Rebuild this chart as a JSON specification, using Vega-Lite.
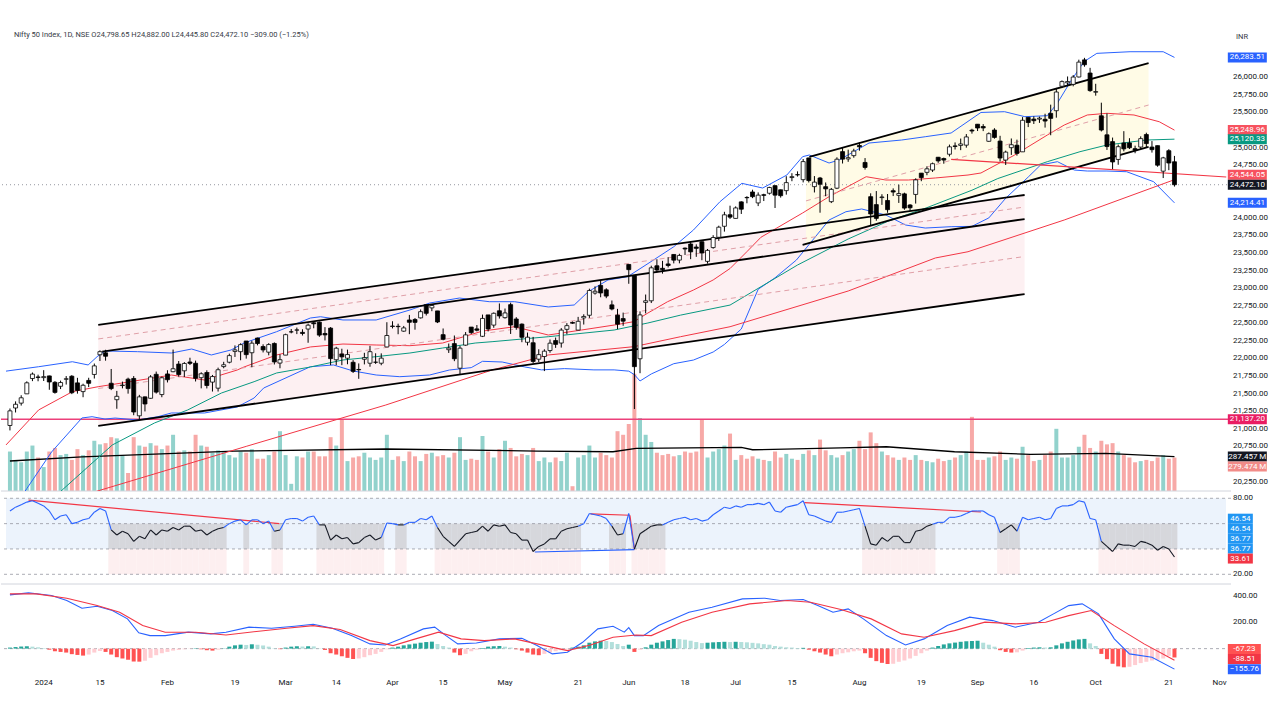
{
"$schema":"https://vega.github.io/schema/vega-lite/v6.json",
"padding":{"left":0,"top":22,"right":0,"bottom":0},
"background":"#ffffff",
"spacing":0,
"resolve":{"scale":{"color":"independent"}},
"config":{"view":{"stroke":null},"font":"Roboto","text":{"font":"Roboto"}},
"datasets":{
"d":[
{"n":1,"o":21047,"h":21289,"l":20977,"c":21255,"v":330,"r":70,"hi":8},
{"n":2,"o":21296,"h":21390,"l":21232,"c":21349,"v":260,"r":73,"hi":12},
{"n":3,"o":21365,"h":21477,"l":21330,"c":21441,"v":240,"r":75,"hi":16},
{"n":4,"o":21497,"h":21675,"l":21495,"c":21654,"v":330,"r":77,"hi":18},
{"n":5,"o":21715,"h":21801,"l":21678,"c":21778,"v":380,"r":78,"hi":15},
{"n":6,"o":21737,"h":21770,"l":21676,"c":21731,"v":280,"r":76,"hi":10},
{"n":7,"o":21728,"h":21834,"l":21680,"c":21742,"v":200,"r":74,"hi":4},
{"n":8,"o":21752,"h":21756,"l":21555,"c":21666,"v":330,"r":70,"hi":-8},
{"n":9,"o":21661,"h":21678,"l":21500,"c":21518,"v":360,"r":63,"hi":-20},
{"n":10,"o":21605,"h":21685,"l":21565,"c":21658,"v":300,"r":66,"hi":-25},
{"n":11,"o":21705,"h":21750,"l":21629,"c":21711,"v":310,"r":67,"hi":-30},
{"n":12,"o":21748,"h":21763,"l":21493,"c":21513,"v":260,"r":60,"hi":-42},
{"n":13,"o":21653,"h":21725,"l":21500,"c":21545,"v":350,"r":61,"hi":-48},
{"n":14,"o":21529,"h":21641,"l":21449,"c":21619,"v":300,"r":63,"hi":-53},
{"n":15,"o":21688,"h":21726,"l":21593,"c":21647,"v":340,"r":64,"hi":-45},
{"n":16,"o":21773,"h":21928,"l":21715,"c":21895,"v":420,"r":69,"hi":-30},
{"n":17,"o":22053,"h":22116,"l":21964,"c":22097,"v":390,"r":72,"hi":-18},
{"n":18,"o":22081,"h":22124,"l":21969,"c":22032,"v":400,"r":70,"hi":-25},
{"n":19,"o":21648,"h":21851,"l":21550,"c":21572,"v":450,"r":55,"hi":-45},
{"n":20,"o":21414,"h":21539,"l":21285,"c":21462,"v":440,"r":51,"hi":-65},
{"n":21,"o":21615,"h":21671,"l":21575,"c":21622,"v":300,"r":54,"hi":-75},
{"n":22,"o":21706,"h":21727,"l":21500,"c":21572,"v":150,"r":52,"hi":-85},
{"n":23,"o":21716,"h":21750,"l":21193,"c":21239,"v":450,"r":46,"hi":-98},
{"n":24,"o":21185,"h":21483,"l":21137,"c":21454,"v":380,"r":50,"hi":-99},
{"n":25,"o":21454,"h":21459,"l":21247,"c":21353,"v":370,"r":48,"hi":-92},
{"n":26,"o":21434,"h":21763,"l":21429,"c":21738,"v":400,"r":55,"hi":-70},
{"n":27,"o":21775,"h":21814,"l":21501,"c":21522,"v":380,"r":51,"hi":-50},
{"n":28,"o":21487,"h":21742,"l":21449,"c":21726,"v":350,"r":55,"hi":-35},
{"n":29,"o":21780,"h":21833,"l":21659,"c":21698,"v":380,"r":54,"hi":-25},
{"n":30,"o":21812,"h":22127,"l":21805,"c":21854,"v":470,"r":57,"hi":-15},
{"n":31,"o":21921,"h":21964,"l":21742,"c":21772,"v":330,"r":55,"hi":-10},
{"n":32,"o":21825,"h":21949,"l":21737,"c":21929,"v":340,"r":58,"hi":-5},
{"n":33,"o":21950,"h":22011,"l":21907,"c":21931,"v":330,"r":58,"hi":-2},
{"n":34,"o":21932,"h":21970,"l":21673,"c":21718,"v":470,"r":54,"hi":3},
{"n":35,"o":21727,"h":21804,"l":21575,"c":21783,"v":380,"r":55,"hi":-5},
{"n":36,"o":21800,"h":21832,"l":21574,"c":21616,"v":370,"r":51,"hi":-12},
{"n":37,"o":21664,"h":21766,"l":21530,"c":21743,"v":320,"r":54,"hi":-15},
{"n":38,"o":21578,"h":21870,"l":21530,"c":21840,"v":340,"r":56,"hi":-8},
{"n":39,"o":21885,"h":21953,"l":21861,"c":21911,"v":330,"r":57,"hi":2},
{"n":40,"o":21947,"h":22069,"l":21931,"c":22041,"v":300,"r":60,"hi":15},
{"n":41,"o":22101,"h":22186,"l":22022,"c":22122,"v":280,"r":62,"hi":25},
{"n":42,"o":22097,"h":22216,"l":21975,"c":22197,"v":330,"r":63,"hi":30},
{"n":43,"o":22249,"h":22249,"l":21998,"c":22055,"v":320,"r":59,"hi":28},
{"n":44,"o":22082,"h":22252,"l":21875,"c":22218,"v":350,"r":63,"hi":33},
{"n":45,"o":22291,"h":22297,"l":22187,"c":22213,"v":270,"r":63,"hi":30},
{"n":46,"o":22170,"h":22202,"l":22086,"c":22122,"v":270,"r":60,"hi":24},
{"n":47,"o":22090,"h":22218,"l":22045,"c":22198,"v":300,"r":62,"hi":15},
{"n":48,"o":22214,"h":22229,"l":21915,"c":21951,"v":330,"r":54,"hi":3},
{"n":49,"o":21935,"h":22060,"l":21861,"c":21983,"v":500,"r":55,"hi":-4},
{"n":50,"o":22048,"h":22353,"l":22048,"c":22339,"v":300,"r":63,"hi":8},
{"n":51,"o":22379,"h":22420,"l":22358,"c":22379,"v":60,"r":64,"hi":15},
{"n":52,"o":22404,"h":22440,"l":22347,"c":22406,"v":290,"r":64,"hi":18},
{"n":53,"o":22372,"h":22416,"l":22327,"c":22356,"v":280,"r":62,"hi":16},
{"n":54,"o":22419,"h":22497,"l":22224,"c":22474,"v":330,"r":65,"hi":18},
{"n":55,"o":22508,"h":22525,"l":22430,"c":22494,"v":330,"r":66,"hi":17},
{"n":56,"o":22517,"h":22527,"l":22308,"c":22333,"v":290,"r":59,"hi":2},
{"n":57,"o":22356,"h":22446,"l":22257,"c":22336,"v":290,"r":59,"hi":-10},
{"n":58,"o":22432,"h":22447,"l":21906,"c":21998,"v":450,"r":47,"hi":-35},
{"n":59,"o":21982,"h":22166,"l":21905,"c":22146,"v":380,"r":51,"hi":-45},
{"n":60,"o":22064,"h":22139,"l":21905,"c":22023,"v":600,"r":48,"hi":-58},
{"n":61,"o":22004,"h":22126,"l":21918,"c":22056,"v":250,"r":49,"hi":-70},
{"n":62,"o":21946,"h":21977,"l":21794,"c":21817,"v":280,"r":44,"hi":-79},
{"n":63,"o":21844,"h":21930,"l":21711,"c":21839,"v":290,"r":45,"hi":-75},
{"n":64,"o":21989,"h":22081,"l":21916,"c":22012,"v":320,"r":49,"hi":-65},
{"n":65,"o":21933,"h":22180,"l":21883,"c":22097,"v":280,"r":51,"hi":-50},
{"n":66,"o":21947,"h":22074,"l":21923,"c":21947,"v":260,"r":47,"hi":-40},
{"n":67,"o":21933,"h":22073,"l":21904,"c":22005,"v":280,"r":49,"hi":-25},
{"n":68,"o":22164,"h":22516,"l":22163,"c":22327,"v":470,"r":60.5,"hi":-5},
{"n":69,"o":22455,"h":22530,"l":22428,"c":22462,"v":260,"r":60,"hi":8},
{"n":70,"o":22458,"h":22495,"l":22345,"c":22453,"v":290,"r":59,"hi":15},
{"n":71,"o":22389,"h":22463,"l":22380,"c":22435,"v":250,"r":59,"hi":25},
{"n":72,"o":22548,"h":22620,"l":22346,"c":22515,"v":330,"r":61,"hi":32},
{"n":73,"o":22555,"h":22575,"l":22410,"c":22514,"v":290,"r":61,"hi":38},
{"n":74,"o":22578,"h":22698,"l":22569,"c":22666,"v":250,"r":64,"hi":45},
{"n":75,"o":22765,"h":22768,"l":22612,"c":22643,"v":310,"r":63,"hi":50},
{"n":76,"o":22720,"h":22775,"l":22673,"c":22754,"v":320,"r":66,"hi":53},
{"n":77,"o":22677,"h":22677,"l":22504,"c":22519,"v":290,"r":57,"hi":35},
{"n":78,"o":22339,"h":22427,"l":22259,"c":22273,"v":300,"r":50,"hi":20},
{"n":79,"o":22125,"h":22213,"l":22079,"c":22148,"v":280,"r":46,"hi":8},
{"n":80,"o":22212,"h":22327,"l":21962,"c":21996,"v":320,"r":42,"hi":-30},
{"n":81,"o":21862,"h":22180,"l":21778,"c":22147,"v":450,"r":47,"hi":-50},
{"n":82,"o":22190,"h":22376,"l":22181,"c":22336,"v":260,"r":52,"hi":-40},
{"n":83,"o":22447,"h":22447,"l":22349,"c":22368,"v":270,"r":53,"hi":-20},
{"n":84,"o":22421,"h":22476,"l":22386,"c":22402,"v":260,"r":54,"hi":-8},
{"n":85,"o":22316,"h":22625,"l":22305,"c":22570,"v":460,"r":58,"hi":5},
{"n":86,"o":22620,"h":22620,"l":22385,"c":22420,"v":330,"r":54,"hi":15},
{"n":87,"o":22475,"h":22655,"l":22437,"c":22643,"v":280,"r":59,"hi":18},
{"n":88,"o":22679,"h":22783,"l":22568,"c":22605,"v":350,"r":58,"hi":20},
{"n":89,"o":22581,"h":22711,"l":22567,"c":22648,"v":420,"r":59,"hi":15},
{"n":90,"o":22766,"h":22794,"l":22349,"c":22476,"v":360,"r":53,"hi":8},
{"n":91,"o":22562,"h":22588,"l":22409,"c":22443,"v":290,"r":52,"hi":-5},
{"n":92,"o":22489,"h":22499,"l":22232,"c":22302,"v":310,"r":47,"hi":-15},
{"n":93,"o":22231,"h":22369,"l":22186,"c":22303,"v":300,"r":47,"hi":-30},
{"n":94,"o":22224,"h":22307,"l":21932,"c":21958,"v":360,"r":38,"hi":-45},
{"n":95,"o":21990,"h":22131,"l":21950,"c":22055,"v":250,"r":42,"hi":-50},
{"n":96,"o":22028,"h":22131,"l":21821,"c":22104,"v":280,"r":44,"hi":-40},
{"n":97,"o":22113,"h":22270,"l":22082,"c":22218,"v":240,"r":48,"hi":-30},
{"n":98,"o":22255,"h":22298,"l":22151,"c":22201,"v":280,"r":48,"hi":-20},
{"n":99,"o":22220,"h":22432,"l":22155,"c":22404,"v":250,"r":54,"hi":-12},
{"n":100,"o":22415,"h":22503,"l":22345,"c":22467,"v":320,"r":56,"hi":-5},
{"n":101,"o":22512,"h":22526,"l":22494,"c":22502,"v":40,"r":57,"hi":8},
{"n":102,"o":22404,"h":22592,"l":22404,"c":22529,"v":280,"r":58,"hi":15},
{"n":103,"o":22577,"h":22629,"l":22483,"c":22598,"v":300,"r":60,"hi":25},
{"n":104,"o":22615,"h":22993,"l":22577,"c":22967,"v":380,"r":68,"hi":45},
{"n":105,"o":22931,"h":23026,"l":22909,"c":22957,"v":280,"r":67,"hi":55},
{"n":106,"o":23039,"h":23111,"l":22871,"c":22932,"v":320,"r":66,"hi":60},
{"n":107,"o":22977,"h":22999,"l":22858,"c":22888,"v":300,"r":64,"hi":58},
{"n":108,"o":22763,"h":22825,"l":22685,"c":22704,"v":280,"r":58,"hi":50},
{"n":109,"o":22617,"h":22706,"l":22417,"c":22488,"v":500,"r":51,"hi":35},
{"n":110,"o":22568,"h":22653,"l":22465,"c":22531,"v":470,"r":52,"hi":20},
{"n":111,"o":23338,"h":23339,"l":23063,"c":23264,"v":560,"r":68,"hi":30},
{"n":112,"o":23179,"h":23179,"l":21281,"c":21884,"v":980,"r":40,"hi":-25},
{"n":113,"o":21996,"h":22670,"l":21791,"c":22620,"v":610,"r":52,"hi":-8},
{"n":114,"o":22798,"h":22910,"l":22642,"c":22821,"v":470,"r":55,"hi":10},
{"n":115,"o":22821,"h":23320,"l":22789,"c":23290,"v":410,"r":58,"hi":30},
{"n":116,"o":23319,"h":23412,"l":23227,"c":23259,"v":320,"r":59,"hi":45},
{"n":117,"o":23283,"h":23389,"l":23207,"c":23265,"v":300,"r":59,"hi":55},
{"n":118,"o":23345,"h":23442,"l":23295,"c":23323,"v":310,"r":61,"hi":65},
{"n":119,"o":23480,"h":23481,"l":23353,"c":23399,"v":290,"r":63,"hi":74},
{"n":120,"o":23400,"h":23490,"l":23354,"c":23466,"v":300,"r":64,"hi":72},
{"n":121,"o":23570,"h":23579,"l":23473,"c":23558,"v":330,"r":65,"hi":68},
{"n":122,"o":23629,"h":23665,"l":23413,"c":23517,"v":320,"r":63,"hi":60},
{"n":123,"o":23586,"h":23624,"l":23446,"c":23567,"v":330,"r":64,"hi":50},
{"n":124,"o":23661,"h":23668,"l":23398,"c":23501,"v":600,"r":62,"hi":42},
{"n":125,"o":23382,"h":23558,"l":23350,"c":23538,"v":280,"r":63,"hi":45},
{"n":126,"o":23578,"h":23754,"l":23562,"c":23721,"v":330,"r":67,"hi":48},
{"n":127,"o":23724,"h":23889,"l":23673,"c":23868,"v":350,"r":70,"hi":50},
{"n":128,"o":23881,"h":24087,"l":23805,"c":24044,"v":380,"r":73,"hi":52},
{"n":129,"o":24045,"h":24174,"l":23986,"c":24011,"v":480,"r":72,"hi":50},
{"n":130,"o":23993,"h":24164,"l":23992,"c":24142,"v":260,"r":74,"hi":52},
{"n":131,"o":24228,"h":24236,"l":24056,"c":24124,"v":300,"r":73,"hi":50},
{"n":132,"o":24291,"h":24309,"l":24208,"c":24287,"v":270,"r":75,"hi":48},
{"n":133,"o":24369,"h":24401,"l":24281,"c":24302,"v":290,"r":75,"hi":44},
{"n":134,"o":24213,"h":24363,"l":24168,"c":24324,"v":270,"r":76,"hi":40},
{"n":135,"o":24330,"h":24344,"l":24240,"c":24321,"v":260,"r":75,"hi":34},
{"n":136,"o":24351,"h":24443,"l":24332,"c":24433,"v":250,"r":77,"hi":30},
{"n":137,"o":24459,"h":24461,"l":24141,"c":24324,"v":330,"r":70,"hi":20},
{"n":138,"o":24400,"h":24403,"l":24289,"c":24316,"v":280,"r":69,"hi":15},
{"n":139,"o":24388,"h":24593,"l":24331,"c":24502,"v":310,"r":73,"hi":10},
{"n":140,"o":24574,"h":24636,"l":24522,"c":24587,"v":270,"r":74,"hi":8},
{"n":141,"o":24615,"h":24662,"l":24588,"c":24613,"v":260,"r":75,"hi":5},
{"n":142,"o":24544,"h":24838,"l":24505,"c":24801,"v":310,"r":78,"hi":6},
{"n":143,"o":24853,"h":24855,"l":24504,"c":24531,"v":340,"r":67,"hi":-8},
{"n":144,"o":24445,"h":24595,"l":24362,"c":24509,"v":300,"r":66,"hi":-20},
{"n":145,"o":24568,"h":24583,"l":24074,"c":24479,"v":430,"r":64,"hi":-30},
{"n":146,"o":24444,"h":24504,"l":24308,"c":24413,"v":340,"r":62,"hi":-45},
{"n":147,"o":24231,"h":24426,"l":24211,"c":24406,"v":300,"r":61,"hi":-58},
{"n":148,"o":24423,"h":24862,"l":24410,"c":24835,"v":280,"r":69,"hi":-45},
{"n":149,"o":24943,"h":24999,"l":24774,"c":24836,"v":300,"r":69,"hi":-35},
{"n":150,"o":24839,"h":24971,"l":24798,"c":24857,"v":330,"r":70,"hi":-28},
{"n":151,"o":24886,"h":24984,"l":24856,"c":24951,"v":350,"r":71,"hi":-20},
{"n":152,"o":25030,"h":25078,"l":24956,"c":25011,"v":420,"r":72,"hi":-15},
{"n":153,"o":24789,"h":24851,"l":24687,"c":24718,"v":350,"r":58,"hi":-35},
{"n":154,"o":24302,"h":24350,"l":23894,"c":24056,"v":490,"r":44,"hi":-70},
{"n":155,"o":24189,"h":24382,"l":23960,"c":23993,"v":400,"r":43,"hi":-95},
{"n":156,"o":24289,"h":24337,"l":24185,"c":24298,"v":330,"r":49,"hi":-108},
{"n":157,"o":24248,"h":24340,"l":24073,"c":24117,"v":300,"r":46,"hi":-117},
{"n":158,"o":24387,"h":24420,"l":24311,"c":24368,"v":280,"r":50,"hi":-115},
{"n":159,"o":24321,"h":24473,"l":24213,"c":24347,"v":260,"r":50,"hi":-100},
{"n":160,"o":24342,"h":24359,"l":24116,"c":24140,"v":280,"r":45,"hi":-90},
{"n":161,"o":24184,"h":24196,"l":24100,"c":24144,"v":260,"r":45,"hi":-75},
{"n":162,"o":24334,"h":24563,"l":24204,"c":24541,"v":300,"r":54,"hi":-55},
{"n":163,"o":24637,"h":24638,"l":24522,"c":24573,"v":260,"r":55,"hi":-35},
{"n":164,"o":24648,"h":24734,"l":24607,"c":24698,"v":250,"r":58,"hi":-15},
{"n":165,"o":24681,"h":24787,"l":24654,"c":24771,"v":240,"r":59.5,"hi":8},
{"n":166,"o":24863,"h":24867,"l":24784,"c":24811,"v":270,"r":61,"hi":20},
{"n":167,"o":24845,"h":24858,"l":24771,"c":24823,"v":250,"r":61,"hi":32},
{"n":168,"o":24906,"h":25043,"l":24874,"c":25011,"v":260,"r":65,"hi":40},
{"n":169,"o":25024,"h":25074,"l":24973,"c":25017,"v":280,"r":65,"hi":46},
{"n":170,"o":25031,"h":25129,"l":24964,"c":25052,"v":300,"r":66,"hi":52},
{"n":171,"o":25035,"h":25193,"l":24999,"c":25152,"v":330,"r":68,"hi":56},
{"n":172,"o":25249,"h":25268,"l":25199,"c":25236,"v":620,"r":70,"hi":58},
{"n":173,"o":25333,"h":25334,"l":25236,"c":25279,"v":260,"r":70,"hi":60},
{"n":174,"o":25300,"h":25334,"l":25235,"c":25280,"v":260,"r":70,"hi":45},
{"n":175,"o":25090,"h":25216,"l":25083,"c":25198,"v":280,"r":67,"hi":30},
{"n":176,"o":25250,"h":25276,"l":25127,"c":25145,"v":290,"r":65,"hi":15},
{"n":177,"o":25093,"h":25168,"l":24801,"c":24852,"v":330,"r":53,"hi":-12},
{"n":178,"o":24823,"h":24957,"l":24753,"c":24936,"v":260,"r":56,"hi":-25},
{"n":179,"o":24999,"h":25130,"l":24896,"c":25041,"v":280,"r":59,"hi":-30},
{"n":180,"o":25034,"h":25113,"l":24886,"c":24918,"v":270,"r":54,"hi":-28},
{"n":181,"o":24940,"h":25434,"l":24940,"c":25389,"v":370,"r":65,"hi":-15},
{"n":182,"o":25430,"h":25430,"l":25292,"c":25357,"v":300,"r":63,"hi":5},
{"n":183,"o":25406,"h":25445,"l":25336,"c":25383,"v":250,"r":64,"hi":8},
{"n":184,"o":25405,"h":25441,"l":25352,"c":25419,"v":260,"r":65,"hi":10},
{"n":185,"o":25403,"h":25482,"l":25285,"c":25378,"v":300,"r":63,"hi":8},
{"n":186,"o":25487,"h":25611,"l":25176,"c":25416,"v":330,"r":64,"hi":10},
{"n":187,"o":25525,"h":25849,"l":25426,"c":25791,"v":520,"r":72,"hi":25},
{"n":188,"o":25873,"h":25956,"l":25847,"c":25939,"v":280,"r":74,"hi":40},
{"n":189,"o":25921,"h":26012,"l":25886,"c":25940,"v":280,"r":74,"hi":52},
{"n":190,"o":25900,"h":26032,"l":25872,"c":26004,"v":300,"r":75,"hi":62},
{"n":191,"o":26005,"h":26251,"l":25998,"c":26216,"v":370,"r":78,"hi":70},
{"n":192,"o":26248,"h":26277,"l":26151,"c":26179,"v":470,"r":77,"hi":74},
{"n":193,"o":26061,"h":26135,"l":25794,"c":25811,"v":360,"r":64,"hi":40},
{"n":194,"o":25788,"h":25908,"l":25739,"c":25797,"v":330,"r":63,"hi":20},
{"n":195,"o":25453,"h":25639,"l":25230,"c":25250,"v":420,"r":46,"hi":-40},
{"n":196,"o":25182,"h":25486,"l":24967,"c":25015,"v":390,"r":42,"hi":-80},
{"n":197,"o":25085,"h":25143,"l":24694,"c":24796,"v":400,"r":38,"hi":-115},
{"n":198,"o":24832,"h":25044,"l":24756,"c":25013,"v":330,"r":44,"hi":-135},
{"n":199,"o":25066,"h":25234,"l":24947,"c":24982,"v":300,"r":43,"hi":-142},
{"n":200,"o":25067,"h":25134,"l":24980,"c":24998,"v":280,"r":43,"hi":-138},
{"n":201,"o":24985,"h":25028,"l":24920,"c":24964,"v":240,"r":42,"hi":-125},
{"n":202,"o":25008,"h":25160,"l":24980,"c":25128,"v":250,"r":46,"hi":-110},
{"n":203,"o":25186,"h":25212,"l":25008,"c":25057,"v":260,"r":45,"hi":-100},
{"n":204,"o":25008,"h":25093,"l":24929,"c":24971,"v":250,"r":43,"hi":-90},
{"n":205,"o":25028,"h":25029,"l":24728,"c":24750,"v":280,"r":39,"hi":-85},
{"n":206,"o":24665,"h":24869,"l":24567,"c":24854,"v":300,"r":42,"hi":-75},
{"n":207,"o":24956,"h":24978,"l":24679,"c":24781,"v":270,"r":40,"hi":-55},
{"n":208,"o":24798.65,"h":24882,"l":24445.8,"c":24472.1,"v":279.474,"r":33.61,"hi":-67.23}
],
"ind":[
{"k":"u","n":0.3,"p":21820},{"k":"u","n":0.83,"p":21826},{"k":"u","n":6.1,"p":21883},{"k":"u","n":12.1,"p":21954},{"k":"u","n":14.9,"p":21908},{"k":"u","n":16.5,"p":22026},{"k":"u","n":17.9,"p":22107},{"k":"u","n":23.7,"p":22097},{"k":"u","n":29.7,"p":22078},{"k":"u","n":33.3,"p":22135},{"k":"u","n":36.8,"p":22050},{"k":"u","n":40.3,"p":22121},{"k":"u","n":42.6,"p":22220},{"k":"u","n":48.4,"p":22381},{"k":"u","n":54.4,"p":22576},{"k":"u","n":56.2,"p":22594},{"k":"u","n":60.2,"p":22548},{"k":"u","n":66.1,"p":22548},{"k":"u","n":72.1,"p":22690},{"k":"u","n":75.6,"p":22789},{"k":"u","n":80.9,"p":22860},{"k":"u","n":86.2,"p":22808},{"k":"u","n":90.7,"p":22808},{"k":"u","n":96.7,"p":22733},{"k":"u","n":101.3,"p":22761},{"k":"u","n":103.8,"p":22950},{"k":"u","n":107.3,"p":23117},{"k":"u","n":110.8,"p":23164},{"k":"u","n":115.4,"p":23401},{"k":"u","n":119,"p":23590},{"k":"u","n":122.5,"p":23828},{"k":"u","n":127.2,"p":24230},{"k":"u","n":131.1,"p":24492},{"k":"u","n":134.8,"p":24425},{"k":"u","n":139.1,"p":24610},{"k":"u","n":141.9,"p":24871},{"k":"u","n":143.1,"p":24895},{"k":"u","n":146.6,"p":24781},{"k":"u","n":148.4,"p":24824},{"k":"u","n":153.7,"p":25065},{"k":"u","n":159.5,"p":25108},{"k":"u","n":163.7,"p":25155},{"k":"u","n":168.3,"p":25208},{"k":"u","n":173.6,"p":25500},{"k":"u","n":177.8,"p":25511},{"k":"u","n":181.4,"p":25440},{"k":"u","n":185.4,"p":25454},{"k":"u","n":187.2,"p":25634},{"k":"u","n":189.5,"p":25937},{"k":"u","n":191.9,"p":26222},{"k":"u","n":194.2,"p":26341},{"k":"u","n":200.1,"p":26364},{"k":"u","n":206,"p":26364},{"k":"u","n":208,"p":26283.51},
{"k":"l","n":0.3,"p":19700},{"k":"l","n":4,"p":20150},{"k":"l","n":8.4,"p":20670},{"k":"l","n":13.8,"p":21154},{"k":"l","n":15.6,"p":21172},{"k":"l","n":17.9,"p":21139},{"k":"l","n":19.7,"p":21153},{"k":"l","n":23.7,"p":21125},{"k":"l","n":27.3,"p":21172},{"k":"l","n":29.7,"p":21225},{"k":"l","n":35.6,"p":21225},{"k":"l","n":41.4,"p":21310},{"k":"l","n":44.4,"p":21438},{"k":"l","n":46.1,"p":21580},{"k":"l","n":54.4,"p":21883},{"k":"l","n":58.5,"p":21908},{"k":"l","n":62,"p":21823},{"k":"l","n":66.1,"p":21765},{"k":"l","n":70.3,"p":21741},{"k":"l","n":75.6,"p":21765},{"k":"l","n":79.1,"p":21836},{"k":"l","n":83,"p":21870},{"k":"l","n":85,"p":21960},{"k":"l","n":88.5,"p":21950},{"k":"l","n":92.5,"p":21880},{"k":"l","n":95.5,"p":21838},{"k":"l","n":99.6,"p":21856},{"k":"l","n":104.8,"p":21838},{"k":"l","n":108.4,"p":21838},{"k":"l","n":111,"p":21820},{"k":"l","n":112,"p":21770},{"k":"l","n":113,"p":21680},{"k":"l","n":115,"p":21780},{"k":"l","n":119,"p":21926},{"k":"l","n":122.5,"p":21978},{"k":"l","n":126,"p":22092},{"k":"l","n":128,"p":22200},{"k":"l","n":131,"p":22420},{"k":"l","n":134,"p":22985},{"k":"l","n":137,"p":23148},{"k":"l","n":140.8,"p":23401},{"k":"l","n":146.6,"p":23970},{"k":"l","n":149.6,"p":24088},{"k":"l","n":152.4,"p":24127},{"k":"l","n":156.7,"p":24041},{"k":"l","n":160.2,"p":23899},{"k":"l","n":163.7,"p":23856},{"k":"l","n":168.3,"p":23875},{"k":"l","n":172,"p":23880},{"k":"l","n":175,"p":24000},{"k":"l","n":178,"p":24280},{"k":"l","n":182,"p":24581},{"k":"l","n":184.2,"p":24753},{"k":"l","n":187.2,"p":24800},{"k":"l","n":190.2,"p":24681},{"k":"l","n":192.5,"p":24667},{"k":"l","n":196,"p":24667},{"k":"l","n":199.5,"p":24657},{"k":"l","n":204.3,"p":24515},{"k":"l","n":208,"p":24214.41},
{"k":"m","n":0.3,"p":20770},{"k":"m","n":6.1,"p":21268},{"k":"m","n":12.1,"p":21528},{"k":"m","n":16.7,"p":21599},{"k":"m","n":20.9,"p":21651},{"k":"m","n":29.7,"p":21765},{"k":"m","n":35.6,"p":21694},{"k":"m","n":41.4,"p":21836},{"k":"m","n":42.6,"p":21879},{"k":"m","n":48.4,"p":22050},{"k":"m","n":54.4,"p":22164},{"k":"m","n":60.2,"p":22206},{"k":"m","n":66.1,"p":22192},{"k":"m","n":72.1,"p":22182},{"k":"m","n":77.9,"p":22220},{"k":"m","n":85,"p":22390},{"k":"m","n":90.7,"p":22452},{"k":"m","n":96.7,"p":22334},{"k":"m","n":102.6,"p":22405},{"k":"m","n":108.4,"p":22476},{"k":"m","n":111.9,"p":22524},{"k":"m","n":114.4,"p":22647},{"k":"m","n":117.9,"p":22808},{"k":"m","n":122.5,"p":22974},{"k":"m","n":126,"p":23117},{"k":"m","n":129,"p":23280},{"k":"m","n":132,"p":23520},{"k":"m","n":134.5,"p":23725},{"k":"m","n":141.9,"p":24070},{"k":"m","n":146.6,"p":24302},{"k":"m","n":153.2,"p":24586},{"k":"m","n":156.7,"p":24539},{"k":"m","n":160.7,"p":24539},{"k":"m","n":165.5,"p":24568},{"k":"m","n":171.3,"p":24610},{"k":"m","n":173.6,"p":24639},{"k":"m","n":179.6,"p":24895},{"k":"m","n":185.4,"p":25179},{"k":"m","n":188.4,"p":25321},{"k":"m","n":192.5,"p":25464},{"k":"m","n":196,"p":25488},{"k":"m","n":200.8,"p":25464},{"k":"m","n":205.3,"p":25368},{"k":"m","n":208,"p":25248.96},
{"k":"g","n":0.3,"p":19410},{"k":"g","n":10.3,"p":20130},{"k":"g","n":19.2,"p":20770},{"k":"g","n":26.7,"p":21083},{"k":"g","n":32.6,"p":21268},{"k":"g","n":38.6,"p":21509},{"k":"g","n":44.4,"p":21670},{"k":"g","n":48.4,"p":21794},{"k":"g","n":54.4,"p":21879},{"k":"g","n":60.2,"p":21979},{"k":"g","n":66.1,"p":22026},{"k":"g","n":72.1,"p":22078},{"k":"g","n":77.9,"p":22149},{"k":"g","n":83.7,"p":22220},{"k":"g","n":86.7,"p":22239},{"k":"g","n":96.7,"p":22310},{"k":"g","n":108.4,"p":22405},{"k":"g","n":114.4,"p":22505},{"k":"g","n":120.2,"p":22617},{"k":"g","n":129,"p":22760},{"k":"g","n":141,"p":23330},{"k":"g","n":150,"p":23700},{"k":"g","n":157,"p":23950},{"k":"g","n":164,"p":24146},{"k":"g","n":172,"p":24394},{"k":"g","n":176.6,"p":24560},{"k":"g","n":185.4,"p":24800},{"k":"g","n":191.2,"p":24942},{"k":"g","n":196,"p":25037},{"k":"g","n":203,"p":25108},{"k":"g","n":208,"p":25120.33},
{"k":"r","n":10,"p":19950},{"k":"r","n":17.2,"p":20130},{"k":"r","n":43,"p":20750},{"k":"r","n":67.8,"p":21338},{"k":"r","n":86.7,"p":21836},{"k":"r","n":96.7,"p":22050},{"k":"r","n":111.9,"p":22168},{"k":"r","n":120.2,"p":22310},{"k":"r","n":129,"p":22452},{"k":"r","n":150,"p":22960},{"k":"r","n":165.5,"p":23430},{"k":"r","n":171.3,"p":23519},{"k":"r","n":188.4,"p":23970},{"k":"r","n":208,"p":24544.05}
],
"vm":[{"n":1,"v":251},{"n":13.8,"v":286},{"n":40.8,"v":334},{"n":67.8,"v":351},{"n":94.7,"v":334},{"n":108.2,"v":328},{"n":112.3,"v":356},{"n":131,"v":365},{"n":133,"v":345},{"n":148.7,"v":361},{"n":156.8,"v":370},{"n":168.9,"v":328},{"n":182.4,"v":306},{"n":195.8,"v":314},{"n":208,"v":287.457}],
"mc":[
{"k":"mac","n":1,"v":408.7},{"k":"mac","n":4.3,"v":424},{"k":"mac","n":8.4,"v":404},{"k":"mac","n":11.1,"v":366},{"k":"mac","n":13.8,"v":307},{"k":"mac","n":16.5,"v":322},{"k":"mac","n":19.2,"v":290},{"k":"mac","n":21.9,"v":226},{"k":"mac","n":23.9,"v":120},{"k":"mac","n":25.9,"v":99},{"k":"mac","n":28.6,"v":99},{"k":"mac","n":32.7,"v":125},{"k":"mac","n":36.7,"v":112},{"k":"mac","n":39.4,"v":125},{"k":"mac","n":43.5,"v":163},{"k":"mac","n":47.5,"v":155},{"k":"mac","n":51.6,"v":170},{"k":"mac","n":54.9,"v":185},{"k":"mac","n":58.3,"v":155},{"k":"mac","n":61.7,"v":99},{"k":"mac","n":65,"v":36},{"k":"mac","n":67.7,"v":28},{"k":"mac","n":70.4,"v":74},{"k":"mac","n":74.5,"v":150},{"k":"mac","n":76.5,"v":163},{"k":"mac","n":78.5,"v":99},{"k":"mac","n":80.6,"v":36},{"k":"mac","n":83.9,"v":43},{"k":"mac","n":88,"v":74},{"k":"mac","n":92,"v":79},{"k":"mac","n":94.7,"v":23},{"k":"mac","n":97.4,"v":-40},{"k":"mac","n":100.1,"v":-28},{"k":"mac","n":102.8,"v":48},{"k":"mac","n":105.5,"v":150},{"k":"mac","n":108.2,"v":170},{"k":"mac","n":110.2,"v":125},{"k":"mac","n":111,"v":160},{"k":"mac","n":112,"v":99},{"k":"mac","n":113.6,"v":99},{"k":"mac","n":116.3,"v":175},{"k":"mac","n":121.7,"v":277},{"k":"mac","n":125.8,"v":315},{"k":"mac","n":131.2,"v":378},{"k":"mac","n":135.2,"v":383},{"k":"mac","n":137.9,"v":366},{"k":"mac","n":142,"v":373},{"k":"mac","n":144.6,"v":327},{"k":"mac","n":147.3,"v":277},{"k":"mac","n":150,"v":302},{"k":"mac","n":152.7,"v":226},{"k":"mac","n":156.8,"v":99},{"k":"mac","n":160.2,"v":28},{"k":"mac","n":163.5,"v":74},{"k":"mac","n":167.6,"v":175},{"k":"mac","n":171.6,"v":239},{"k":"mac","n":175.7,"v":213},{"k":"mac","n":179.7,"v":163},{"k":"mac","n":183.8,"v":201},{"k":"mac","n":186.5,"v":264},{"k":"mac","n":189.2,"v":327},{"k":"mac","n":191.6,"v":340},{"k":"mac","n":194.5,"v":264},{"k":"mac","n":197.3,"v":74},{"k":"mac","n":200,"v":-40},{"k":"mac","n":204,"v":-66},{"k":"mac","n":208,"v":-155.76},
{"k":"sig","n":1,"v":416},{"k":"sig","n":5.7,"v":416},{"k":"sig","n":11.1,"v":383},{"k":"sig","n":16.5,"v":328},{"k":"sig","n":20.5,"v":277},{"k":"sig","n":24.6,"v":175},{"k":"sig","n":28.6,"v":125},{"k":"sig","n":34,"v":125},{"k":"sig","n":39.4,"v":104},{"k":"sig","n":44.8,"v":130},{"k":"sig","n":50.2,"v":155},{"k":"sig","n":54.9,"v":175},{"k":"sig","n":59.7,"v":145},{"k":"sig","n":65,"v":61},{"k":"sig","n":69.1,"v":23},{"k":"sig","n":73.1,"v":74},{"k":"sig","n":77.2,"v":125},{"k":"sig","n":81.2,"v":74},{"k":"sig","n":85.3,"v":61},{"k":"sig","n":90.7,"v":74},{"k":"sig","n":96.1,"v":23},{"k":"sig","n":100.1,"v":-15},{"k":"sig","n":104.2,"v":28},{"k":"sig","n":108.2,"v":87},{"k":"sig","n":112.3,"v":104},{"k":"sig","n":115,"v":99},{"k":"sig","n":120.4,"v":201},{"k":"sig","n":125.8,"v":277},{"k":"sig","n":132.5,"v":340},{"k":"sig","n":139.2,"v":366},{"k":"sig","n":143.3,"v":353},{"k":"sig","n":148.7,"v":297},{"k":"sig","n":154.1,"v":226},{"k":"sig","n":159.5,"v":112},{"k":"sig","n":163.5,"v":87},{"k":"sig","n":168.9,"v":137},{"k":"sig","n":174.3,"v":201},{"k":"sig","n":179.7,"v":188},{"k":"sig","n":185.1,"v":201},{"k":"sig","n":189.2,"v":251},{"k":"sig","n":193.2,"v":290},{"k":"sig","n":197.3,"v":175},{"k":"sig","n":202.6,"v":36},{"k":"sig","n":208,"v":-88.51}
],
"ln":[
{"k":"s","a":16.7,"b":181.36,"pa":22477,"pb":24326},
{"k":"s","a":17.4,"b":181.36,"pa":22097,"pb":23984},
{"k":"s","a":16.7,"b":181.36,"pa":21040,"pb":22917},
{"k":"s","a":143.1,"b":203.4,"pa":24868,"pb":26203},
{"k":"s","a":141.9,"b":203.4,"pa":23616,"pb":25009},
{"k":"d","a":16.7,"b":181.36,"pa":22278,"pb":24155},
{"k":"d","a":16.7,"b":181.36,"pa":21573,"pb":23451},
{"k":"d","a":142.5,"b":203.4,"pa":24242,"pb":25606},
{"k":"t","a":168.3,"b":217.2,"pa":24834,"pb":24582}
],
"fl":[
{"g":"a","n":16.7,"t":22477,"b":21040},{"g":"a","n":181.36,"t":24326,"b":22917},
{"g":"b","n":142.5,"t":24855,"b":23630},{"g":"b","n":203.4,"t":26203,"b":25009}
],
"rt":[
{"k":"r","a":4.3,"b":48.9,"ra":78.5,"rb":60},
{"k":"r","a":104.2,"b":111.2,"ra":67.7,"rb":66.6},
{"k":"r","a":111.2,"b":112,"ra":66.6,"rb":39.7},
{"k":"r","a":142.2,"b":173.6,"ra":76.6,"rb":69.2},
{"k":"b","a":94.3,"b":112,"ra":37.6,"rb":39.4}
],
"pl":[{"t":"26,283.51","v":26283.51,"k":"b"},{"t":"25,248.96","v":25248.96,"k":"r"},{"t":"25,120.33","v":25120.33,"k":"g"},{"t":"24,472.10","v":24472.1,"k":"k"},{"t":"24,214.41","v":24214.41,"k":"b"},{"t":"21,137.20","v":21137.2,"k":"p"}],
"pticks":[{"v":20250},{"v":20750},{"v":21000},{"v":21250},{"v":21500},{"v":21750},{"v":22000},{"v":22250},{"v":22500},{"v":22750},{"v":23000},{"v":23250},{"v":23500},{"v":23750},{"v":24000},{"v":24750},{"v":25000},{"v":25500},{"v":25750},{"v":26000}],
"dates":[{"n":7,"t":"2024"},{"n":17,"t":"15"},{"n":29,"t":"Feb"},{"n":41,"t":"19"},{"n":50,"t":"Mar"},{"n":59,"t":"14"},{"n":69,"t":"Apr"},{"n":78,"t":"15"},{"n":89,"t":"May"},{"n":102,"t":"21"},{"n":111,"t":"Jun"},{"n":121,"t":"18"},{"n":130,"t":"Jul"},{"n":140,"t":"15"},{"n":152,"t":"Aug"},{"n":163,"t":"19"},{"n":173,"t":"Sep"},{"n":183,"t":"16"},{"n":194,"t":"Oct"},{"n":207,"t":"21"},{"n":216,"t":"Nov"}]
},
"vconcat":[
{
"width":1230,"height":469,
"resolve":{"scale":{"y":"independent"}},
"layer":[
{"data":{"name":"d"},"mark":{"type":"bar","width":4,"opacity":1,"clip":true},
 "encoding":{
  "x":{"field":"n","type":"quantitative","scale":{"domain":[0.3,217.16],"nice":false,"zero":false},"axis":null},
  "y":{"field":"v","type":"quantitative","scale":{"domain":[0,3921],"nice":false},"axis":null},
  "y2":{"datum":0},
  "color":{"condition":{"test":"datum.c >= datum.o","value":"#92d2cc"},"value":"#f7a9a7"}}},
{"data":{"name":"vm"},"mark":{"type":"line","color":"#000000","strokeWidth":1.3,"clip":true},
 "encoding":{
  "x":{"field":"n","type":"quantitative","axis":null},
  "y":{"field":"v","type":"quantitative","scale":{"domain":[0,3921],"nice":false},"axis":null}}},
{"data":{"values":[{}]},"mark":{"type":"rule","color":"#d1d4dc","strokeWidth":1},
 "encoding":{"y":{"datum":0,"type":"quantitative","scale":{"domain":[0,3921],"nice":false},"axis":null}}},
{"data":{"values":[{"t":"287.457 M","v":287.457}]},
 "encoding":{"x":{"datum":220.95,"type":"quantitative","axis":null},"y":{"field":"v","type":"quantitative","scale":{"domain":[0,3921],"nice":false},"axis":null}},
 "layer":[
  {"mark":{"type":"tick","orient":"horizontal","size":39,"thickness":10,"opacity":1,"color":"#131722"}},
  {"mark":{"type":"text","color":"#ffffff","fontSize":8,"align":"center","baseline":"middle"},"encoding":{"text":{"field":"t"}}}]},
{"data":{"values":[{"t":"279.474 M","v":279.474}]},
 "encoding":{"x":{"datum":220.95,"type":"quantitative","axis":null},"y":{"field":"v","type":"quantitative","scale":{"domain":[0,3921],"nice":false},"axis":null}},
 "layer":[
  {"mark":{"type":"tick","orient":"horizontal","size":39,"thickness":10,"opacity":1,"color":"#f28b88","yOffset":9}},
  {"mark":{"type":"text","color":"#ffffff","fontSize":8,"align":"center","baseline":"middle","yOffset":9},"encoding":{"text":{"field":"t"}}}]},
{"layer":[
 {"data":{"name":"fl"},"mark":{"type":"area","opacity":1,"clip":true},
  "encoding":{
   "x":{"field":"n","type":"quantitative","axis":null},
   "y":{"field":"t","type":"quantitative","scale":{"domain":[20115,26787],"nice":false,"zero":false},"axis":null},
   "y2":{"field":"b"},
   "detail":{"field":"g"},
   "color":{"condition":{"test":"datum.g == 'a'","value":"#fdf0f2"},"value":"#fffbe6"}}},
 {"data":{"values":[{}]},"mark":{"type":"rule","color":"#9598a1","strokeDash":[1,3],"strokeWidth":1},
  "encoding":{"y":{"datum":24472.1,"type":"quantitative","axis":null}}},
 {"data":{"values":[{}]},"mark":{"type":"rule","color":"#ec407a","strokeWidth":1.5},
  "encoding":{"y":{"datum":21137.2,"type":"quantitative","axis":null}}},
 {"data":{"name":"ind"},"mark":{"type":"line","strokeWidth":1,"clip":true},
  "encoding":{
   "x":{"field":"n","type":"quantitative","axis":null},
   "y":{"field":"p","type":"quantitative","axis":null},
   "color":{"field":"k","type":"nominal","scale":{"domain":["u","l","m","g","r"],"range":["#2962FF","#2962FF","#F23645","#089981","#F23645"]},"legend":null}}},
 {"data":{"name":"ln"},"transform":[{"filter":"datum.k == 'd'"}],"mark":{"type":"rule","color":"#e0a0a8","strokeDash":[5,4],"strokeWidth":1,"clip":true},
  "encoding":{"x":{"field":"a","type":"quantitative","axis":null},"x2":{"field":"b"},"y":{"field":"pa","type":"quantitative","axis":null},"y2":{"field":"pb"}}},
 {"data":{"name":"ln"},"transform":[{"filter":"datum.k == 's'"}],"mark":{"type":"rule","color":"#000000","strokeWidth":1.8,"clip":true},
  "encoding":{"x":{"field":"a","type":"quantitative","axis":null},"x2":{"field":"b"},"y":{"field":"pa","type":"quantitative","axis":null},"y2":{"field":"pb"}}},
 {"data":{"name":"ln"},"transform":[{"filter":"datum.k == 't'"}],"mark":{"type":"rule","color":"#F23645","strokeWidth":1.2,"clip":true},
  "encoding":{"x":{"field":"a","type":"quantitative","axis":null},"x2":{"field":"b"},"y":{"field":"pa","type":"quantitative","axis":null},"y2":{"field":"pb"}}},
 {"data":{"name":"d"},"mark":{"type":"rule","color":"#000000","strokeWidth":1,"clip":true},
  "encoding":{"x":{"field":"n","type":"quantitative","axis":null},"y":{"field":"l","type":"quantitative","axis":null},"y2":{"field":"h"}}},
 {"data":{"name":"d"},"mark":{"type":"bar","width":4,"opacity":1,"stroke":"#000000","strokeWidth":0.8,"clip":true},
  "encoding":{"x":{"field":"n","type":"quantitative","axis":null},"y":{"field":"o","type":"quantitative","axis":null},"y2":{"field":"c"},
   "fill":{"condition":{"test":"datum.c >= datum.o","value":"#ffffff"},"value":"#000000"}}},
 {"data":{"values":[{"t":"Nifty 50 Index, 1D, NSE  O24,798.65  H24,882.00  L24,445.80  C24,472.10  −309.00 (−1.25%)"}]},
  "mark":{"type":"text","align":"left","baseline":"middle","fontSize":7.5,"color":"#363a45"},
  "encoding":{"x":{"datum":1.71,"type":"quantitative","axis":null},"y":{"datum":26602,"type":"quantitative","axis":null},"text":{"field":"t"}}},
 {"data":{"values":[{"t":"INR"}]},
  "mark":{"type":"text","align":"left","baseline":"middle","fontSize":7.5,"color":"#363a45"},
  "encoding":{"x":{"datum":218.95,"type":"quantitative","axis":null},"y":{"datum":26573,"type":"quantitative","axis":null},"text":{"field":"t"}}},
 {"data":{"name":"pticks"},
  "mark":{"type":"text","align":"left","baseline":"middle","fontSize":8,"color":"#131722"},
  "encoding":{"x":{"datum":218.39,"type":"quantitative","axis":null},"y":{"field":"v","type":"quantitative","axis":null},"text":{"field":"v","type":"quantitative","format":",.2f"}}},
 {"data":{"values":[{"t":"24,544.05","v":24544.05}]},
  "encoding":{"x":{"datum":220.95,"type":"quantitative","axis":null},"y":{"field":"v","type":"quantitative","axis":null}},
  "layer":[
   {"mark":{"type":"tick","orient":"horizontal","size":39,"thickness":10,"opacity":1,"color":"#F7525F","yOffset":-5}},
   {"mark":{"type":"text","color":"#ffffff","fontSize":8,"align":"center","baseline":"middle","yOffset":-5},"encoding":{"text":{"field":"t"}}}]},
 {"data":{"name":"pl"},
  "encoding":{"x":{"datum":220.95,"type":"quantitative","axis":null},"y":{"field":"v","type":"quantitative","axis":null}},
  "layer":[
   {"mark":{"type":"tick","orient":"horizontal","size":39,"thickness":10,"opacity":1},
    "encoding":{"color":{"condition":[{"test":"datum.k == 'b'","value":"#2962FF"},{"test":"datum.k == 'r'","value":"#F7525F"},{"test":"datum.k == 'g'","value":"#089981"},{"test":"datum.k == 'p'","value":"#E91E63"}],"value":"#131722"}}},
   {"mark":{"type":"text","color":"#ffffff","fontSize":8,"align":"center","baseline":"middle"},"encoding":{"text":{"field":"t"}}}]}
]}
]
},
{
"width":1230,"height":92,
"layer":[
 {"data":{"values":[{}]},"mark":{"type":"rect","color":"#ecf3fc"},
  "encoding":{
   "x":{"datum":0.3,"type":"quantitative","scale":{"domain":[0.3,217.16],"nice":false,"zero":false},"axis":null},
   "x2":{"datum":217.16},
   "y":{"datum":80,"type":"quantitative","scale":{"domain":[12.34,84.97],"nice":false,"zero":false},"axis":null},
   "y2":{"datum":40}}},
 {"data":{"name":"d"},"transform":[{"filter":"datum.r < 60"}],"mark":{"type":"bar","width":5.8,"opacity":1,"color":"#d6d7dc"},
  "encoding":{"x":{"field":"n","type":"quantitative","axis":null},"y":{"datum":60,"type":"quantitative","axis":null},"y2":{"datum":40}}},
 {"data":{"name":"d"},"transform":[{"filter":"datum.r < 60"}],"mark":{"type":"bar","width":5.8,"opacity":1,"color":"#fdeff0"},
  "encoding":{"x":{"field":"n","type":"quantitative","axis":null},"y":{"datum":40,"type":"quantitative","axis":null},"y2":{"datum":20}}},
 {"data":{"values":[{"v":80},{"v":60},{"v":40},{"v":20}]},"mark":{"type":"rule","color":"#9598a1","strokeDash":[3,3],"strokeWidth":0.8},
  "encoding":{"y":{"field":"v","type":"quantitative","axis":null}}},
 {"data":{"values":[{}]},"mark":{"type":"rule","color":"#d1d4dc","strokeWidth":1},
  "encoding":{"y":{"datum":12.34,"type":"quantitative","axis":null}}},
 {"data":{"name":"rt"},"mark":{"type":"rule","strokeWidth":1.2},
  "encoding":{"x":{"field":"a","type":"quantitative","axis":null},"x2":{"field":"b"},"y":{"field":"ra","type":"quantitative","axis":null},"y2":{"field":"rb"},
   "color":{"condition":{"test":"datum.k == 'b'","value":"#2962FF"},"value":"#F23645"}}},
 {"data":{"name":"d"},"transform":[{"window":[{"op":"lead","field":"r","as":"r2"},{"op":"lead","field":"n","as":"n2"}],"sort":[{"field":"n","order":"ascending"}]},{"filter":"isValid(datum.n2)"}],
  "mark":{"type":"rule","strokeWidth":1.1},
  "encoding":{"x":{"field":"n","type":"quantitative","axis":null},"x2":{"field":"n2"},"y":{"field":"r","type":"quantitative","axis":null},"y2":{"field":"r2"},
   "color":{"condition":{"test":"datum.r < 60 && datum.r2 < 60","value":"#131722"},"value":"#2962FF"}}},
 {"data":{"values":[{"v":80},{"v":20}]},
  "mark":{"type":"text","align":"left","baseline":"middle","fontSize":8,"color":"#131722"},
  "encoding":{"x":{"datum":218.39,"type":"quantitative","axis":null},"y":{"field":"v","type":"quantitative","axis":null},"text":{"field":"v","type":"quantitative","format":".2f"}}},
 {"data":{"values":[{"t":"46.54","v":46.54}]},"encoding":{"x":{"datum":219.71,"type":"quantitative","axis":null},"y":{"field":"v","type":"quantitative","axis":null}},
  "layer":[{"mark":{"type":"tick","orient":"horizontal","size":25,"thickness":10,"opacity":1,"color":"#2196F3","yOffset":-22}},{"mark":{"type":"text","color":"#ffffff","fontSize":8,"align":"center","baseline":"middle","yOffset":-22},"encoding":{"text":{"field":"t"}}}]},
 {"data":{"values":[{"t":"46.54","v":46.54}]},"encoding":{"x":{"datum":219.71,"type":"quantitative","axis":null},"y":{"field":"v","type":"quantitative","axis":null}},
  "layer":[{"mark":{"type":"tick","orient":"horizontal","size":25,"thickness":10,"opacity":1,"color":"#2196F3","yOffset":-12}},{"mark":{"type":"text","color":"#ffffff","fontSize":8,"align":"center","baseline":"middle","yOffset":-12},"encoding":{"text":{"field":"t"}}}]},
 {"data":{"values":[{"t":"36.77","v":36.77}]},"encoding":{"x":{"datum":219.71,"type":"quantitative","axis":null},"y":{"field":"v","type":"quantitative","axis":null}},
  "layer":[{"mark":{"type":"tick","orient":"horizontal","size":25,"thickness":10,"opacity":1,"color":"#2196F3","yOffset":-14.5}},{"mark":{"type":"text","color":"#ffffff","fontSize":8,"align":"center","baseline":"middle","yOffset":-14.5},"encoding":{"text":{"field":"t"}}}]},
 {"data":{"values":[{"t":"36.77","v":36.77}]},"encoding":{"x":{"datum":219.71,"type":"quantitative","axis":null},"y":{"field":"v","type":"quantitative","axis":null}},
  "layer":[{"mark":{"type":"tick","orient":"horizontal","size":25,"thickness":10,"opacity":1,"color":"#2196F3","yOffset":-4.5}},{"mark":{"type":"text","color":"#ffffff","fontSize":8,"align":"center","baseline":"middle","yOffset":-4.5},"encoding":{"text":{"field":"t"}}}]},
 {"data":{"values":[{"t":"33.61","v":33.61}]},"encoding":{"x":{"datum":219.71,"type":"quantitative","axis":null},"y":{"field":"v","type":"quantitative","axis":null}},
  "layer":[{"mark":{"type":"tick","orient":"horizontal","size":25,"thickness":10,"opacity":1,"color":"#F23645","yOffset":1.5}},{"mark":{"type":"text","color":"#ffffff","fontSize":8,"align":"center","baseline":"middle","yOffset":1.5},"encoding":{"text":{"field":"t"}}}]}
]
},
{
"width":1230,"height":91,
"layer":[
 {"data":{"values":[{}]},"mark":{"type":"rule","color":"#9598a1","strokeDash":[3,3],"strokeWidth":0.8},
  "encoding":{"y":{"datum":0,"type":"quantitative","scale":{"domain":[-208,483.5],"nice":false,"zero":false},"axis":null}}},
 {"data":{"name":"d"},"transform":[{"window":[{"op":"lag","field":"hi","as":"hp"}],"sort":[{"field":"n","order":"ascending"}]}],
  "mark":{"type":"bar","width":4,"opacity":1},
  "encoding":{
   "x":{"field":"n","type":"quantitative","scale":{"domain":[0.3,217.16],"nice":false,"zero":false},"axis":null},
   "y":{"field":"hi","type":"quantitative","axis":null},
   "y2":{"datum":0},
   "color":{"condition":[{"test":"datum.hi >= 0 && datum.hi >= datum.hp","value":"#26A69A"},{"test":"datum.hi >= 0","value":"#B2DFDB"},{"test":"datum.hi > datum.hp","value":"#FFCDD2"}],"value":"#FF5252"}}},
 {"data":{"name":"mc"},"mark":{"type":"line","strokeWidth":1.1,"clip":true},
  "encoding":{"x":{"field":"n","type":"quantitative","axis":null},"y":{"field":"v","type":"quantitative","axis":null},
   "color":{"field":"k","type":"nominal","scale":{"domain":["mac","sig"],"range":["#2962FF","#F23645"]},"legend":null}}},
 {"data":{"values":[{"v":400},{"v":200}]},
  "mark":{"type":"text","align":"left","baseline":"middle","fontSize":8,"color":"#131722"},
  "encoding":{"x":{"datum":218.39,"type":"quantitative","axis":null},"y":{"field":"v","type":"quantitative","axis":null},"text":{"field":"v","type":"quantitative","format":".2f"}}},
 {"data":{"name":"dates"},
  "mark":{"type":"text","align":"center","baseline":"middle","fontSize":8,"color":"#131722"},
  "encoding":{"x":{"field":"n","type":"quantitative","axis":null},"y":{"datum":-264,"type":"quantitative","axis":null},"text":{"field":"t"}}},
 {"data":{"values":[{"t":"-67.23","v":-67.23}]},"encoding":{"x":{"datum":220.42,"type":"quantitative","axis":null},"y":{"field":"v","type":"quantitative","axis":null}},
  "layer":[{"mark":{"type":"tick","orient":"horizontal","size":33,"thickness":10,"opacity":1,"color":"#FF5252","yOffset":-8.5}},{"mark":{"type":"text","color":"#ffffff","fontSize":8,"align":"center","baseline":"middle","yOffset":-8.5},"encoding":{"text":{"field":"t"}}}]},
 {"data":{"values":[{"t":"-88.51","v":-88.51}]},"encoding":{"x":{"datum":220.42,"type":"quantitative","axis":null},"y":{"field":"v","type":"quantitative","axis":null}},
  "layer":[{"mark":{"type":"tick","orient":"horizontal","size":33,"thickness":10,"opacity":1,"color":"#F23645","yOffset":-1.3}},{"mark":{"type":"text","color":"#ffffff","fontSize":8,"align":"center","baseline":"middle","yOffset":-1.3},"encoding":{"text":{"field":"t"}}}]},
 {"data":{"values":[{"t":"−155.76","v":-155.76}]},"encoding":{"x":{"datum":220.42,"type":"quantitative","axis":null},"y":{"field":"v","type":"quantitative","axis":null}},
  "layer":[{"mark":{"type":"tick","orient":"horizontal","size":33,"thickness":10,"opacity":1,"color":"#2962FF"}},{"mark":{"type":"text","color":"#ffffff","fontSize":8,"align":"center","baseline":"middle"},"encoding":{"text":{"field":"t"}}}]}
]
}
]
}
